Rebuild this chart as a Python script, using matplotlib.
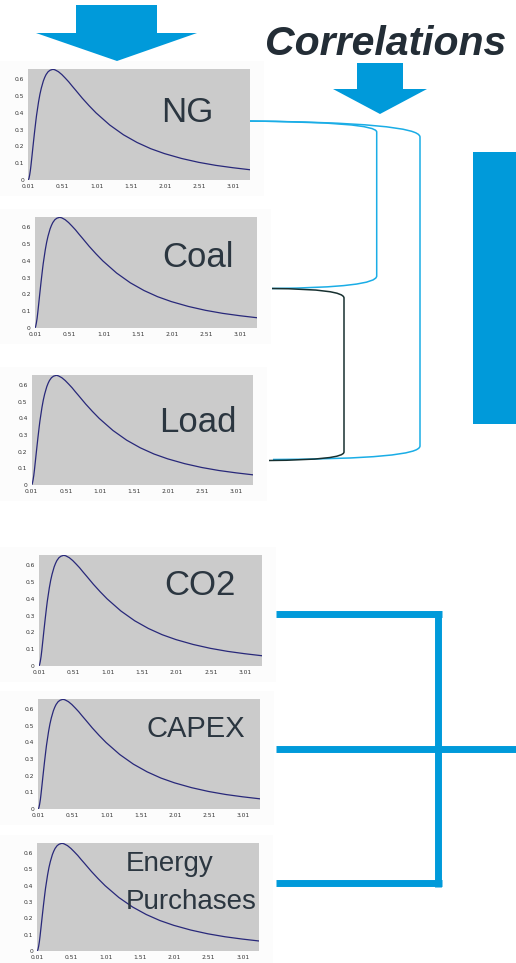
import matplotlib
matplotlib.use("Agg")
import matplotlib.pyplot as plt
from matplotlib.path import Path
from matplotlib.patches import PathPatch, Polygon, Rectangle

# distribution curve (all six panels show the same shape)
curve_x = [0.01, 0.02, 0.03, 0.04, 0.05, 0.065, 0.08, 0.10, 0.12, 0.13, 0.16, 0.18,
           0.20, 0.23, 0.25, 0.27, 0.30, 0.33, 0.37, 0.40, 0.45, 0.50, 0.55, 0.60,
           0.65, 0.70, 0.80, 0.90, 1.00, 1.20, 1.40, 1.60, 1.80, 2.00, 2.25, 2.50,
           2.75, 3.00, 3.25]
curve_y = [0.00, 0.01, 0.03, 0.056, 0.09, 0.147, 0.205, 0.28, 0.35, 0.383, 0.465, 0.51,
           0.546, 0.589, 0.61, 0.627, 0.644, 0.653, 0.658, 0.655, 0.644, 0.627, 0.606, 0.584,
           0.559, 0.535, 0.486, 0.441, 0.399, 0.327, 0.269, 0.223, 0.186, 0.157, 0.128, 0.105,
           0.087, 0.073, 0.061]

panel_names = ["NG", "Coal", "Load", "CO2", "CAPEX", "Energy\nPurchases"]
y_ticks = [0, 0.1, 0.2, 0.3, 0.4, 0.5, 0.6]
y_tick_labels = ["0", "0.1", "0.2", "0.3", "0.4", "0.5", "0.6"]
x_ticks = [0.01, 0.51, 1.01, 1.51, 2.01, 2.51, 3.01]
x_tick_labels = ["0.01", "0.51", "1.01", "1.51", "2.01", "2.51", "3.01"]

# panel boxes in pixels: x0, x1, y0, y1
panel_px = [(28.3, 250, 69, 180), (35, 257, 217, 328), (31.7, 253, 375, 485),
            (39, 262, 555, 666), (38.3, 260, 699, 809), (37.3, 259.3, 843, 951)]
# label anchor (x, baseline y) and font size
label_pos = [(187, 121.7, 25), (198, 266.7, 25), (198, 431.7, 25),
             (200, 595, 25), (196, 736.7, 21), (126, 871, 20)]

W, H = 516, 963
blue = "#009ADA"
light_blue = "#1AADE6"
text_col = "#2b3640"

fig = plt.figure(figsize=(W / 100, H / 100), dpi=100)
bg = fig.add_axes([0, 0, 1, 1])
bg.set_xlim(0, W)
bg.set_ylim(H, 0)
bg.axis("off")

# very faint backgrounds behind each small chart
for (x0, x1, y0, y1) in panel_px:
    bg.add_patch(Rectangle((0, y0 - 8), x1 + 14, (y1 - y0) + 24, color="#fcfcfc", lw=0))

# big arrows and the block on the right
bg.add_patch(Polygon([(76, 5), (157, 5), (157, 33), (197, 33), (117, 61), (36, 33), (76, 33)],
                     closed=True, color=blue, lw=0))
bg.add_patch(Polygon([(357, 63), (403, 63), (403, 89), (427, 89), (380, 114), (333, 89), (357, 89)],
                     closed=True, color=blue, lw=0))
bg.add_patch(Rectangle((473.3, 151.7), W - 473.3, 424 - 151.7, color=blue, lw=0))

bg.text(265, 55, "Correlations", fontsize=29.5, fontweight="bold", fontstyle="italic",
        family="Liberation Sans", color="#232d36", va="baseline", ha="left")

# curved correlation brackets
def bracket(p0, c1, p1, p2, c2, p3, color, lw):
    verts = [p0, c1, p1, p2, c2, p3]
    codes = [Path.MOVETO, Path.CURVE3, Path.CURVE3, Path.LINETO, Path.CURVE3, Path.CURVE3]
    bg.add_patch(PathPatch(Path(verts, codes), fill=False, edgecolor=color, lw=lw,
                           capstyle="butt"))

bracket((245, 121), (376.7, 122), (376.7, 132), (376.7, 276), (376.7, 287.5), (272, 288.5),
        light_blue, 1.1)
bracket((245, 121), (420, 122.5), (420, 137), (420, 446), (420, 459), (273, 459.5),
        light_blue, 1.1)
bracket((272, 288.5), (344, 289), (344, 298), (344, 452), (344, 460), (269, 460.5),
        "#173030", 1.1)

# thick bracket joining the lower three
lw_thick = 5.0
bg.plot([275.7, 441.5], [614.3, 614.3], color=blue, lw=lw_thick, solid_capstyle="butt")
bg.plot([275.7, 441.5], [883.3, 883.3], color=blue, lw=lw_thick, solid_capstyle="butt")
bg.plot([438.3, 438.3], [611, 886.6], color=blue, lw=lw_thick, solid_capstyle="butt")
bg.plot([275.7, W], [749, 749], color=blue, lw=lw_thick, solid_capstyle="butt")

for (x0, x1, y0, y1) in panel_px:
    ax = fig.add_axes([x0 / W, 1 - y1 / H, (x1 - x0) / W, (y1 - y0) / H])
    ax.set_facecolor("#cbcbcb")
    ax.plot(curve_x, curve_y, color="#28287a", lw=0.9)
    ax.set_xlim(0.01, 3.25)
    ax.set_ylim(0, 0.66)
    ax.set_xticks(x_ticks)
    ax.set_xticklabels(x_tick_labels)
    ax.set_yticks(y_ticks)
    ax.set_yticklabels(y_tick_labels)
    ax.tick_params(length=0, labelsize=4.3, labelcolor="#333333", pad=3)
    for s in ax.spines.values():
        s.set_visible(False)

# panel names sit on top of the small charts
top = fig.add_axes([0, 0, 1, 1], zorder=5)
top.set_xlim(0, W)
top.set_ylim(H, 0)
top.axis("off")
for name, (tx, ty, fs) in zip(panel_names, label_pos):
    if "\n" in name:
        for i, line in enumerate(name.split("\n")):
            top.text(tx, ty + 38 * i, line, fontsize=fs, family="Liberation Sans",
                     color=text_col, va="baseline", ha="left")
    else:
        top.text(tx, ty, name, fontsize=fs, family="Liberation Sans", color=text_col,
                 va="baseline", ha="center")

fig.savefig("out.png", dpi=100)
